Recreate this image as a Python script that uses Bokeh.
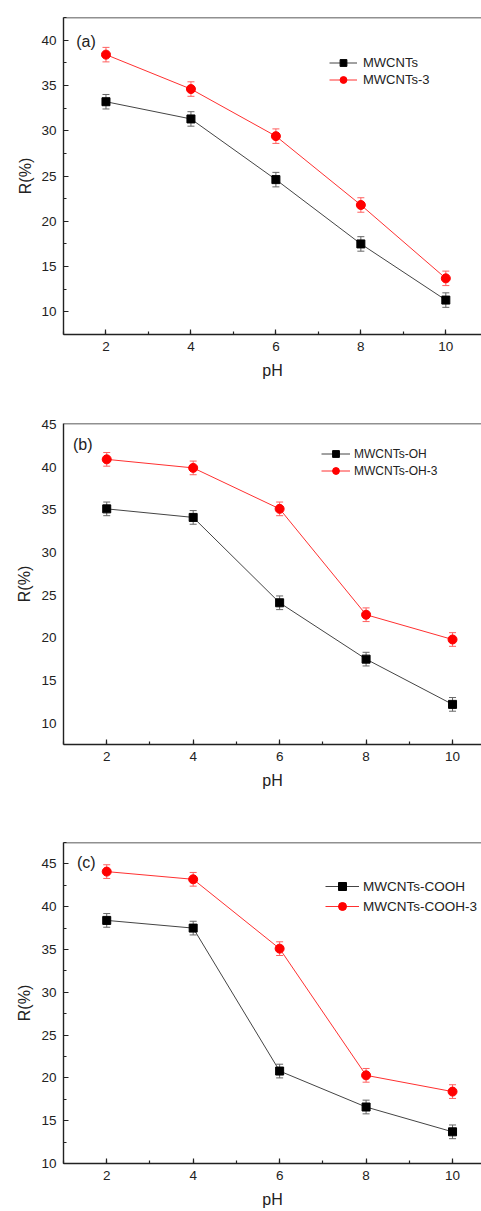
from bokeh.plotting import figure
from bokeh.models import (ColumnDataSource, Whisker, TeeHead, Legend, LegendItem,
                          Label, Span, SingleIntervalTicker, Range1d)
from bokeh.layouts import column
from bokeh.embed import file_html
from bokeh.resources import INLINE

# ---------------- data ----------------
ph = [2, 4, 6, 8, 10]

a_names = ["MWCNTs", "MWCNTs-3"]
a_plain = [33.2, 31.3, 24.6, 17.5, 11.3]
a_mod = [38.4, 34.6, 29.4, 21.8, 13.7]
a_plain_err = [0.8, 0.8, 0.8, 0.8, 0.8]
a_mod_err = [0.8, 0.8, 0.8, 0.8, 0.8]

b_names = ["MWCNTs-OH", "MWCNTs-OH-3"]
b_plain = [35.1, 34.1, 24.1, 17.5, 12.2]
b_mod = [40.9, 39.9, 35.1, 22.7, 19.8]
b_plain_err = [0.8, 0.8, 0.8, 0.8, 0.8]
b_mod_err = [0.8, 0.8, 0.8, 0.8, 0.8]

c_names = ["MWCNTs-COOH", "MWCNTs-COOH-3"]
c_plain = [38.4, 37.5, 20.8, 16.6, 13.7]
c_mod = [44.1, 43.2, 35.1, 20.3, 18.4]
c_plain_err = [0.8, 0.8, 0.8, 0.8, 0.8]
c_mod_err = [0.8, 0.8, 0.8, 0.8, 0.8]

FONT = "Liberation Sans"
W = 481


def make_panel(tag, names, plain, mod, plain_err, mod_err, y_start, y_end, x_end,
               height, b_top, b_bottom, b_left, leg_xy, leg_font, leg_row, glyph_w,
               leg_standoff, tag_xy, ylab_standoff, y_ticks=True):
    p = figure(width=W, height=height, x_range=Range1d(1, x_end),
               y_range=Range1d(y_start, y_end), output_backend="svg",
               toolbar_location=None, min_border_left=b_left, min_border_right=0,
               min_border_top=b_top, min_border_bottom=b_bottom,
               x_axis_label="pH", y_axis_label="R(%)")
    p.outline_line_color = None
    p.xgrid.visible = False
    p.ygrid.visible = False

    p.xaxis.ticker = SingleIntervalTicker(interval=2, num_minor_ticks=2)
    p.yaxis.ticker = SingleIntervalTicker(interval=5, num_minor_ticks=2)
    for ax in (p.xaxis[0], p.yaxis[0]):
        ax.axis_line_color = "#222222"
        ax.axis_line_width = 1.4
        ax.major_tick_line_color = "#222222"
        ax.minor_tick_line_color = "#222222"
        ax.major_tick_line_width = 1.2
        ax.minor_tick_line_width = 1.2
        ax.major_tick_in = 5
        ax.major_tick_out = 0
        ax.minor_tick_in = 3
        ax.minor_tick_out = 0
        ax.major_label_text_font = FONT
        ax.major_label_text_font_size = "13.5px"
        ax.major_label_text_color = "#222222"
        ax.major_label_standoff = 7
        ax.axis_label_text_font = FONT
        ax.axis_label_text_font_size = "16px"
        ax.axis_label_text_font_style = "normal"
        ax.axis_label_text_color = "#222222"
    if not y_ticks:
        p.yaxis.major_tick_in = 0
        p.yaxis.minor_tick_in = 0
    p.xaxis.axis_label_standoff = 8
    p.yaxis.axis_label_standoff = ylab_standoff

    p.add_layout(Span(location=y_end, dimension="width", line_color="#222222",
                      line_width=1.4))

    src_p = ColumnDataSource(dict(x=ph, y=plain,
                                  lo=[v - e for v, e in zip(plain, plain_err)],
                                  hi=[v + e for v, e in zip(plain, plain_err)]))
    src_m = ColumnDataSource(dict(x=ph, y=mod,
                                  lo=[v - e for v, e in zip(mod, mod_err)],
                                  hi=[v + e for v, e in zip(mod, mod_err)]))

    for src, col in ((src_p, "#666666"), (src_m, "#ff6060")):
        wk = Whisker(source=src, base="x", upper="hi", lower="lo", line_color=col,
                     line_width=1,
                     upper_head=TeeHead(size=7, line_color=col, line_width=1),
                     lower_head=TeeHead(size=7, line_color=col, line_width=1),
                     level="underlay")
        p.add_layout(wk)

    l1 = p.line("x", "y", source=src_p, line_color="#444444", line_width=1)
    s1 = p.scatter("x", "y", source=src_p, marker="square", size=8,
                   fill_color="black", line_color="black")
    l2 = p.line("x", "y", source=src_m, line_color="#ff3030", line_width=1)
    s2 = p.scatter("x", "y", source=src_m, marker="circle", size=9,
                   fill_color="#ff0000", line_color="#ff0000")

    leg = Legend(items=[LegendItem(label=names[0], renderers=[l1, s1]),
                        LegendItem(label=names[1], renderers=[l2, s2])],
                 location=leg_xy, orientation="vertical",
                 background_fill_alpha=0, border_line_color=None,
                 padding=0, margin=0, spacing=0,
                 glyph_width=glyph_w, glyph_height=leg_row, label_height=leg_row,
                 label_standoff=leg_standoff,
                 label_text_font=FONT, label_text_font_size=leg_font,
                 label_text_color="#222222")
    p.add_layout(leg)

    p.add_layout(Label(x=tag_xy[0], y=tag_xy[1], text=tag, text_font=FONT,
                       text_font_size="16px", text_baseline="middle",
                       text_color="#222222"))
    return p


pa = make_panel("(a)", a_names, a_plain, a_mod, a_plain_err, a_mod_err,
                7.5, 42.5, 10.84, 395, 17, 61, 61, (266, 246), "13px", 17, 28, 6,
                (1.3, 39.9), 4)
pb = make_panel("(b)", b_names, b_plain, b_mod, b_plain_err, b_mod_err,
                7.5, 45.1, 10.67, 405, 28, 56, 63, (258, 265), "12px", 17, 29, 4,
                (1.22, 42.65), 5, y_ticks=False)
pc = make_panel("(c)", c_names, c_plain, c_mod, c_plain_err, c_mod_err,
                10, 47.5, 10.67, 410, 42, 47, 63, (262, 247), "13.5px", 20, 34, 4,
                (1.31, 45.15), 5)

layout = column(pa, pb, pc, spacing=0)
open("out.html", "w").write(file_html(layout, INLINE))
